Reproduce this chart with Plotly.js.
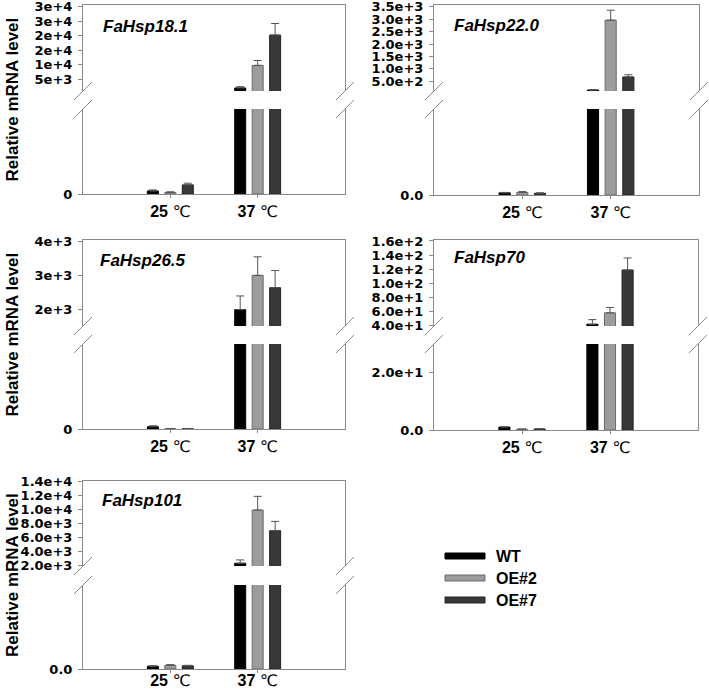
<!DOCTYPE html>
<html>
<head>
<meta charset="utf-8">
<script src="https://cdn.plot.ly/plotly-3.0.1.min.js"></script>
<style>html,body{margin:0;padding:0;background:#fff;}#chart{width:709px;height:692px;}</style>
</head>
<body>
<div id="chart"></div>
<script>
// ---------- data ----------
const categories = ['<b>25</b> ℃', '<b>37</b> ℃'];
const seriesNames = ['WT', 'OE#2', 'OE#7'];
const genes = ['FaHsp18.1', 'FaHsp22.0', 'FaHsp26.5', 'FaHsp70', 'FaHsp101'];

// values [25 ℃, 37 ℃] and upward error bars
const hsp181_WT  = [36, 1900],   hsp181_WT_err  = [12, 450];
const hsp181_OE2 = [18, 9700],   hsp181_OE2_err = [8, 1700];
const hsp181_OE7 = [107, 20200], hsp181_OE7_err = [20, 4000];

const hsp220_WT  = [2.5, 150],   hsp220_WT_err  = [0.5, 12];
const hsp220_OE2 = [3, 2960],    hsp220_OE2_err = [1, 400];
const hsp220_OE7 = [2, 675],     hsp220_OE7_err = [0.5, 90];

const hsp265_WT  = [27, 2000],   hsp265_WT_err  = [12, 400];
const hsp265_OE2 = [3, 3000],    hsp265_OE2_err = [1, 540];
const hsp265_OE7 = [2, 2640],    hsp265_OE7_err = [1, 500];

const hsp70_WT   = [1.0, 42.4],  hsp70_WT_err   = [0.15, 6.5];
const hsp70_OE2  = [0.25, 58.5], hsp70_OE2_err  = [0.1, 7.5];
const hsp70_OE7  = [0.35, 119],  hsp70_OE7_err  = [0.1, 17];

const hsp101_WT  = [32, 2380],   hsp101_WT_err  = [8, 470];
const hsp101_OE2 = [44, 9900],   hsp101_OE2_err = [8, 1940];
const hsp101_OE7 = [38, 6980],   hsp101_OE7_err = [6, 1320];

// axis ranges (lower segment / upper segment of the broken axis)
const lowerRanges = [[0, 1000], [0, 100], [0, 1000], [0, 29.8], [0, 1000]];
const upperRanges = [[850, 30600], [110, 3570], [1525, 4030], [39.9, 161.4], [1990, 14010]];

// tick values and labels
const lowerTickVals = [[0], [0], [0], [0, 20], [0]];
const lowerTickText = [['0'], ['0.0'], ['0'], ['0.0', '2.0e+1'], ['0.0']];
const upperTickVals = [
  [5000, 10000, 15000, 20000, 25000, 30000],
  [500, 1000, 1500, 2000, 2500, 3000, 3500],
  [2000, 3000, 4000],
  [40, 60, 80, 100, 120, 140, 160],
  [2000, 4000, 6000, 8000, 10000, 12000, 14000]
];
const upperTickText = [
  ['5e+3', '1e+4', '2e+4', '2e+4', '3e+4', '3e+4'],
  ['5.0e+2', '1.0e+3', '1.5e+3', '2.0e+3', '2.5e+3', '3.0e+3', '3.5e+3'],
  ['2e+3', '3e+3', '4e+3'],
  ['4.0e+1', '6.0e+1', '8.0e+1', '1.0e+2', '1.2e+2', '1.4e+2', '1.6e+2'],
  ['2.0e+3', '4.0e+3', '6.0e+3', '8.0e+3', '1.0e+4', '1.2e+4', '1.4e+4']
];

const panelData = [
  [[hsp181_WT, hsp181_WT_err], [hsp181_OE2, hsp181_OE2_err], [hsp181_OE7, hsp181_OE7_err]],
  [[hsp220_WT, hsp220_WT_err], [hsp220_OE2, hsp220_OE2_err], [hsp220_OE7, hsp220_OE7_err]],
  [[hsp265_WT, hsp265_WT_err], [hsp265_OE2, hsp265_OE2_err], [hsp265_OE7, hsp265_OE7_err]],
  [[hsp70_WT, hsp70_WT_err], [hsp70_OE2, hsp70_OE2_err], [hsp70_OE7, hsp70_OE7_err]],
  [[hsp101_WT, hsp101_WT_err], [hsp101_OE2, hsp101_OE2_err], [hsp101_OE7, hsp101_OE7_err]]
];

// ---------- styling / layout geometry (pixels) ----------
const W = 709, H = 692;
const FONT = 'Arial, "Liberation Sans", "DejaVu Sans", sans-serif';
const TICKFONT = '"DejaVu Sans", Arial, sans-serif';
const AX = '#8a8a8a';
const fills = ['#000000', '#9c9c9c', '#383838'];
const edges = ['#000000', '#6a6a6a', '#222222'];
const errColor = '#555555';
// [left, right, top, upperBottom, lowerTop, bottom]
const boxes = [
  [83, 345, 5, 91, 109, 194],
  [434, 699, 5, 91, 109, 195],
  [83, 345, 240, 326, 344, 429],
  [434, 698, 240, 326, 344, 430],
  [83, 345, 481, 566, 585, 669]
];
const xLabelStandoff = [0, 0, 0, 0, -6];
const geneLabelPos = [[101, 26], [452, 25], [98, 260], [452, 258], [100, 500]];

const px = v => v / W;
const py = v => 1 - v / H;

const traces = [];
const layout = {
  width: W, height: H,
  margin: {l: 0, r: 0, t: 0, b: 0},
  paper_bgcolor: '#ffffff', plot_bgcolor: 'rgba(0,0,0,0)',
  showlegend: false,
  barmode: 'group', bargap: 0.4, bargroupgap: 0.37,
  font: {family: FONT, color: '#000000'},
  shapes: [], annotations: []
};

boxes.forEach((b, i) => {
  const [L, R, T, UB, LT, B] = b;
  const nLo = 2 * i + 1, nUp = 2 * i + 2;
  const xLo = 'x' + (nLo === 1 ? '' : nLo), xUp = 'x' + nUp;
  const yLo = 'y' + (nLo === 1 ? '' : nLo), yUp = 'y' + nUp;
  const xdom = [px(L), px(R)];

  layout['xaxis' + (nLo === 1 ? '' : nLo)] = {
    domain: xdom, anchor: yLo, type: 'category', range: [-1, 2],
    showline: true, linecolor: AX, linewidth: 1,
    ticks: 'outside', ticklen: 3, tickcolor: AX, tickwidth: 1,
    ticklabelstandoff: xLabelStandoff[i], ticklabeloverflow: 'allow',
    tickfont: {size: 16, family: FONT, color: '#000'},
    showgrid: false, zeroline: false, fixedrange: true
  };
  layout['xaxis' + nUp] = {
    domain: xdom, anchor: yUp, type: 'category', range: [-1, 2],
    side: 'top', showline: true, linecolor: AX, linewidth: 1,
    ticks: '', showticklabels: false, showgrid: false, zeroline: false, fixedrange: true
  };
  const yCommon = {
    showline: true, mirror: true, linecolor: AX, linewidth: 1,
    ticks: 'outside', ticklen: 4, tickcolor: AX, tickwidth: 1,
    ticklabeloverflow: 'allow', ticklabelstandoff: 3,
    tickfont: {size: 13, family: TICKFONT, color: '#000', weight: 'bold'},
    showgrid: false, zeroline: false, fixedrange: true, tickmode: 'array'
  };
  layout['yaxis' + (nLo === 1 ? '' : nLo)] = Object.assign({}, yCommon, {
    domain: [py(B), py(LT)], anchor: xLo, range: lowerRanges[i],
    tickvals: lowerTickVals[i], ticktext: lowerTickText[i]
  });
  layout['yaxis' + nUp] = Object.assign({}, yCommon, {
    domain: [py(UB), py(T)], anchor: xUp, range: upperRanges[i],
    tickvals: upperTickVals[i], ticktext: upperTickText[i]
  });

  panelData[i].forEach((s, k) => {
    const [vals, errs] = s;
    [[xLo, yLo], [xUp, yUp]].forEach(([xa, ya]) => {
      traces.push({
        type: 'bar', name: seriesNames[k], x: categories, y: vals,
        xaxis: xa, yaxis: ya,
        marker: {color: fills[k], line: {color: edges[k], width: 1}},
        error_y: {type: 'data', symmetric: false, array: errs, arrayminus: errs.map(() => 0),
                  color: errColor, thickness: 1, width: 4},
        hoverinfo: 'skip'
      });
    });
  });

  // break marks
  [L, R].forEach(xx => {
    [UB, LT].forEach(yy => {
      layout.shapes.push({
        type: 'line', xref: 'paper', yref: 'paper',
        x0: px(xx - 9), y0: py(yy + 9), x1: px(xx + 9), y1: py(yy - 9),
        line: {color: AX, width: 1}
      });
    });
  });

  // gene label
  layout.annotations.push({
    xref: 'paper', yref: 'paper', x: px(geneLabelPos[i][0]), y: py(geneLabelPos[i][1]),
    xanchor: 'left', yanchor: 'middle', showarrow: false,
    text: '<b><i>' + genes[i] + '</i></b>',
    font: {size: 17, family: FONT, color: '#000'}
  });

  // y title for left column
  if (L < 200) {
    layout.annotations.push({
      xref: 'paper', yref: 'paper', x: px(12), y: py((T + B) / 2),
      xanchor: 'center', yanchor: 'middle', showarrow: false, textangle: -90,
      text: '<b>Relative mRNA level</b>',
      font: {size: 17, family: FONT, color: '#000'}
    });
  }
});

// legend (drawn manually)
const legendRows = [556, 578, 600];
seriesNames.forEach((nm, k) => {
  const yy = legendRows[k];
  layout.shapes.push({
    type: 'rect', xref: 'paper', yref: 'paper',
    x0: px(445), x1: px(485), y0: py(yy + 3), y1: py(yy - 3),
    fillcolor: fills[k], line: {color: edges[k], width: 1}
  });
  layout.annotations.push({
    xref: 'paper', yref: 'paper', x: px(494), y: py(yy + 0.5),
    xanchor: 'left', yanchor: 'middle', showarrow: false,
    text: '<b>' + nm + '</b>', font: {size: 16, family: FONT, color: '#000'}
  });
});

Plotly.newPlot('chart', traces, layout, {staticPlot: true, displayModeBar: false});
</script>
</body>
</html>
